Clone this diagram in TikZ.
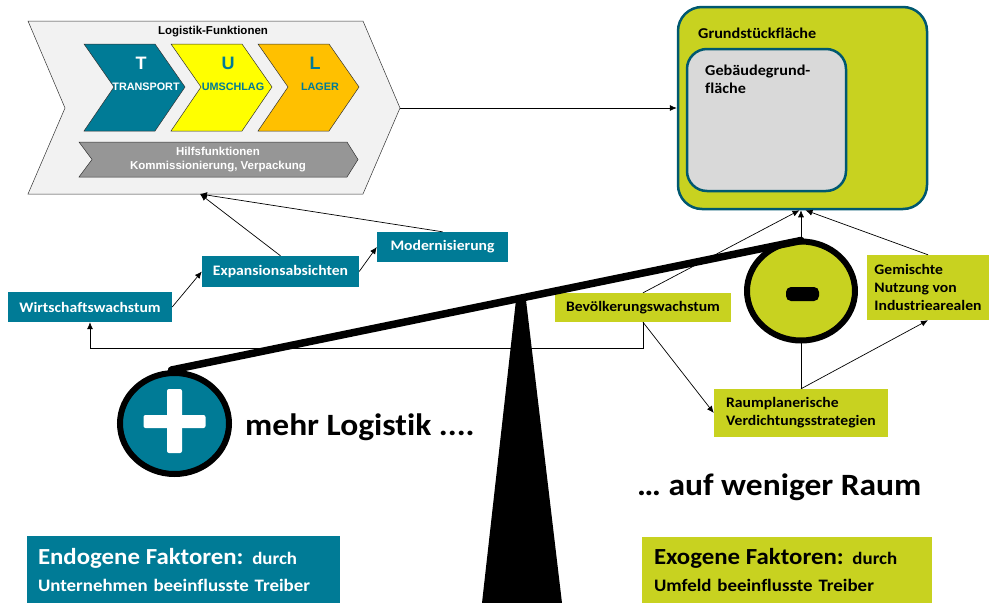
\documentclass[tikz,border=0pt]{standalone}
\usepackage{fontspec}
\setmainfont{Carlito}[FakeStretch=1.08,Ligatures=NoCommon]
\newfontfamily\arialfont{Liberation Sans}
\usepackage{tikz}
\usetikzlibrary{shapes.geometric,arrows.meta,positioning,calc}

\definecolor{logTeal}{RGB}{0,123,150}
\definecolor{logLime}{RGB}{200,210,32}
\definecolor{logBorder}{RGB}{0,88,112}
\definecolor{logYellow}{RGB}{255,255,0}
\definecolor{logOrange}{RGB}{255,192,0}
\definecolor{logGrey}{RGB}{150,150,150}
\definecolor{logLight}{RGB}{242,242,242}
\definecolor{logArea}{RGB}{217,217,217}

\tikzset{
  tealbox/.style={rectangle,fill=logTeal,text=white,inner sep=0pt,font=\bfseries\fontsize{14.5}{18}\selectfont},
  limebox/.style={rectangle,fill=logLime,text=black,inner sep=0pt,font=\bfseries\fontsize{14.5}{18}\selectfont},
  areabox/.style={rectangle,draw=logBorder,line width=2.5pt},
  link/.style={line width=0.7pt,-{Latex[length=7pt,width=6pt]}},
  chev/.style={draw=black!80,line width=0.5pt},
  knob/.style={ellipse,draw=black,line width=6pt,inner sep=0pt},
  slogan/.style={anchor=base west,inner sep=0pt,font=\bfseries\fontsize{31}{34}\selectfont},
}

\begin{document}
\begin{tikzpicture}[x=1pt,y=-1pt]
    \useasboundingbox (0,0) rectangle (989,603);

    % logistics functions chevron
    \draw[chev,fill=logLight] (28,21) -- (363,21) -- (400,108) -- (363,194) -- (28,194) -- (65,108) -- cycle;
    \coordinate (logtip) at (400,108);
    \coordinate (logbot) at (200,194);
    \node[font=\arialfont\bfseries\fontsize{11.5}{13}\selectfont] (logtitle) at (213,32) {Logistik-Funktionen};
    \foreach \x/\col/\txt/\letter/\word in {84/logTeal/white/T/TRANSPORT, 171/logYellow/logTeal/U/UMSCHLAG, 258/logOrange/logTeal/L/LAGER}{
        \draw[chev,fill=\col] (\x,44) -- ++(71,0) -- ++(30,43) -- ++(-30,44) -- ++(-71,0) -- ++(30,-44) -- cycle;
        \node[text=\txt,font=\arialfont\bfseries\fontsize{18}{20}\selectfont] at (\x+57,63) {\letter};
        \node[text=\txt,font=\arialfont\bfseries\fontsize{10.8}{12}\selectfont] at (\x+62,87) {\word};
    }
    \draw[chev,fill=logGrey] (79,142) -- (347,142) -- (358,159.5) -- (347,177) -- (79,177) -- (92,159.5) -- cycle;
    \node[text=white,align=center,font=\arialfont\bfseries\fontsize{11.5}{14}\selectfont] (hilfs) at (218,160)
        {Hilfsfunktionen\\Kommissionierung, Verpackung};

    % site and building area
    \node[areabox,fill=logLime,rounded corners=24pt,minimum width=249pt,minimum height=202pt] (grund) at (802.5,108) {};
    \node[anchor=base west,inner sep=0pt,font=\bfseries\fontsize{15}{18}\selectfont] (grundlabel) at (698,38) {Grundstückfläche};
    \node[areabox,fill=logArea,rounded corners=20pt,minimum width=159pt,minimum height=142pt] (geb) at (766.5,120) {};
    \node[anchor=north west,inner sep=0pt,align=left,font=\bfseries\fontsize{15}{18}\selectfont] (geblabel) at (705,65)
        {Gebäudegrund-\\fläche};

    % drivers
    \node[tealbox,minimum width=164pt,minimum height=30pt] (wirt) at (90,307) {Wirtschaftswachstum};
    \node[tealbox,minimum width=157pt,minimum height=31pt] (exp) at (280.5,271.5) {Expansionsabsichten};
    \node[tealbox,minimum width=131pt,minimum height=30pt] (mod) at (442.5,247) {Modernisierung};
    \node[limebox,minimum width=176pt,minimum height=29pt] (bev) at (643,307.5) {Bevölkerungswachstum};
    \node[limebox,align=left,minimum width=123pt,minimum height=65pt] (gem) at (928,287.5)
        {Gemischte\\Nutzung von\\Industriearealen};
    \node[limebox,align=left,minimum width=174pt,minimum height=48pt] (raum) at (801,413)
        {Raumplanerische\\Verdichtungsstrategien};

    % connectors
    \draw[link] (logtip) -- (grund.west);
    \draw[link] (exp.north) -- (logbot);
    \draw[link] (mod.north) -- (logbot);
    \draw[link] (wirt.east) -- (exp.west);
    \draw[link] (exp.east) -- (mod.west);
    \draw[link] (bev.south) -- ++(0,26) -| (wirt.south);
    \draw[link] (bev.south) -- (raum.west);
    \draw[link] (raum.north) -- (gem.south);
    \draw[link] (raum.north) -- (raum.north |- grund.south);
    \draw[link] (bev.north) -- ([xshift=-3pt]grund.south);
    \draw[link] (gem.north) -- ([xshift=3pt]grund.south);

    % balance
    \fill (516,300) -- (526,300) -- (562,603) -- (482,603) -- cycle;
    \node[knob,fill=logTeal,minimum width=109pt,minimum height=101pt] (plus) at (174.5,423.5) {};
    \node[knob,fill=logLime,minimum width=108pt,minimum height=99pt] (minus) at (801,291) {};
    \draw[line width=7.5pt,line cap=round] ([xshift=-3pt]plus.north) -- ([yshift=-2pt]minus.north);
    \fill[white,rounded corners=2pt] ([shift={(-31,-8.5)}]plus.center) rectangle ++(62,13);
    \fill[white,rounded corners=2pt] ([shift={(-7.5,-34.5)}]plus.center) rectangle ++(15,64);
    \fill[rounded corners=5pt] ([shift={(-15,-4)}]minus.center) rectangle ++(33,14);

    \node[slogan] (more) at (245,435) {mehr Logistik ....};
    \node[slogan] (less) at (637,495) {… auf weniger Raum};

    % legend
    \node[tealbox,align=left,text width=291pt,inner xsep=11pt,minimum height=67pt,font=\bfseries\fontsize{17.5}{27}\selectfont] (endo) at (183.5,569.5)
        {{\fontsize{23}{27}\selectfont Endogene Faktoren:} durch\\Unternehmen beeinflusste Treiber};
    \node[limebox,align=left,text width=266pt,inner xsep=12pt,minimum height=66pt,font=\bfseries\fontsize{17.5}{27}\selectfont] (exo) at (787,570)
        {{\fontsize{23}{27}\selectfont Exogene Faktoren:} durch\\Umfeld beeinflusste Treiber};
\end{tikzpicture}
\end{document}
